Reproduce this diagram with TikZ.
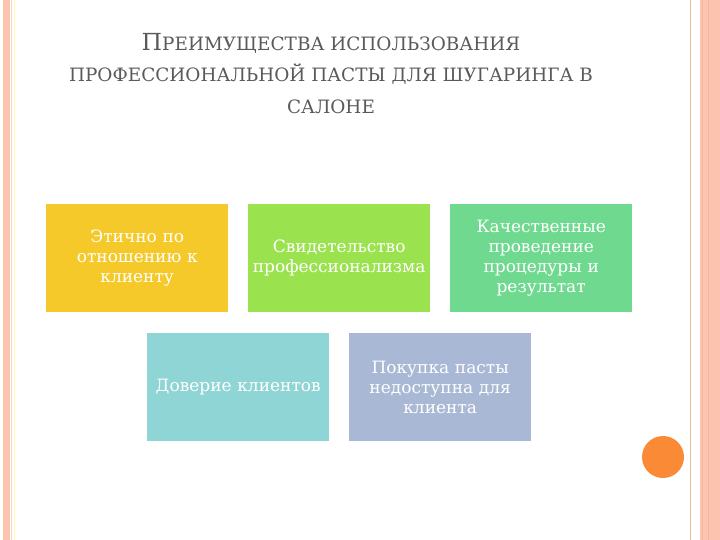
\documentclass[tikz,border=0pt]{standalone}
\usepackage{fontspec}
\setmainfont{DejaVu Serif}
\begin{document}
\begin{tikzpicture}[x=1pt,y=-1pt,
  box/.style={minimum width=182pt,minimum height=108pt,inner sep=0pt,anchor=north west,
    text=white,align=center,text width=180pt,font=\fontsize{17}{20}\selectfont},
  title/.style={text=titlegray,font=\fontsize{18.4}{20}\selectfont,inner sep=0pt}]
\definecolor{band}{HTML}{FCC4AE}
\definecolor{bandline}{HTML}{F4B7A0}
\definecolor{titlegray}{HTML}{5A5A5A}
\definecolor{cA}{HTML}{F5C929}
\definecolor{cB}{HTML}{9BE34E}
\definecolor{cC}{HTML}{6FD98F}
\definecolor{cD}{HTML}{8FD5D5}
\definecolor{cE}{HTML}{A9B8D4}
\definecolor{dot}{HTML}{FA8A36}
\useasboundingbox (0,0) rectangle (720,540);
\fill[white] (0,0) rectangle (720,540);
% left band
\fill[band] (3,0) rectangle (9.5,540);
\draw[bandline!60,line width=0.6pt] (11.5,0) -- (11.5,540);
\draw[yellow!30,line width=0.6pt] (14,0) -- (14,540);
% right band
\draw[band!80!brown,line width=1.2pt] (690.5,0) -- (690.5,540);
\fill[band] (700,0) rectangle (720,540);
\draw[bandline,line width=0.8pt] (702,0) -- (702,540);
\draw[bandline,line width=0.8pt] (708,0) -- (708,540);
% title
\node[title] (t1) at (331,43) {{\fontsize{23.5}{22}\selectfont П}{\fontsize{18.4}{20}\selectfont РЕИМУЩЕСТВА ИСПОЛЬЗОВАНИЯ}};
\node[title] (t2) at (331,74) {ПРОФЕССИОНАЛЬНОЙ ПАСТЫ ДЛЯ ШУГАРИНГА В};
\node[title] (t3) at (331,107) {САЛОНЕ};
% boxes
\node[box,fill=cA] (b1) at (46,204) {Этично по\\ отношению к\\ клиенту};
\node[box,fill=cB] (b2) at (248,204) {Свидетельство\\ профессионализма};
\node[box,fill=cC] (b3) at (450,204) {Качественные\\ проведение\\ процедуры и\\ результат};
\node[box,fill=cD] (b4) at (147,333) {Доверие клиентов};
\node[box,fill=cE] (b5) at (349,333) {Покупка пасты\\ недоступна для\\ клиента};
% dot
\fill[dot] (663,457) circle (21);
\end{tikzpicture}
\end{document}
